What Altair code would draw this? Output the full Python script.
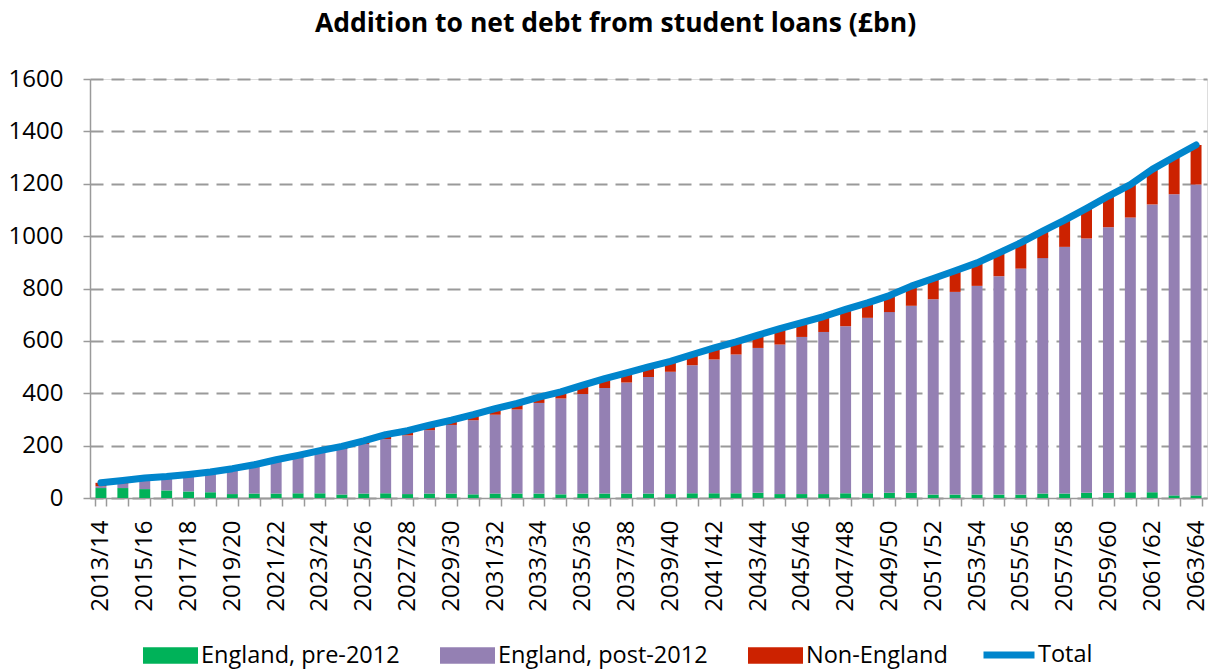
import altair as alt
import pandas as pd

years = ["2013/14", "2014/15", "2015/16", "2016/17", "2017/18", "2018/19", "2019/20", "2020/21",
         "2021/22", "2022/23", "2023/24", "2024/25", "2025/26", "2026/27", "2027/28", "2028/29",
         "2029/30", "2030/31", "2031/32", "2032/33", "2033/34", "2034/35", "2035/36", "2036/37",
         "2037/38", "2038/39", "2039/40", "2040/41", "2041/42", "2042/43", "2043/44", "2044/45",
         "2045/46", "2046/47", "2047/48", "2048/49", "2049/50", "2050/51", "2051/52", "2052/53",
         "2053/54", "2054/55", "2055/56", "2056/57", "2057/58", "2058/59", "2059/60", "2060/61",
         "2061/62", "2062/63", "2063/64"]

pre2012 = [38, 38, 34, 29, 25, 22, 15, 17, 17, 18, 18, 13, 17, 18, 15, 17, 17, 14, 17, 17,
           17, 14, 17, 17, 17, 17, 15, 18, 18, 18, 20, 15, 15, 15, 18, 18, 20, 20, 13, 13,
           13, 13, 13, 17, 17, 20, 20, 22, 22, 10, 10]
post2012 = [7, 17, 35, 44, 58, 71, 92, 104, 123, 135, 154, 174, 189, 207, 224, 242, 262, 283, 301, 321,
            346, 366, 380, 403, 424, 445, 467, 489, 511, 530, 553, 571, 600, 619, 638, 670, 690, 714, 746, 774,
            797, 834, 863, 899, 942, 971, 1014, 1049, 1099, 1150, 1187]
non_england = [13, 12, 7, 9, 7, 6, 5, 6, 6, 10, 9, 10, 12, 17, 18, 19, 18, 21, 23, 23,
               22, 25, 34, 36, 37, 39, 40, 41, 44, 48, 49, 61, 55, 59, 64, 57, 63, 75, 79, 81,
               88, 89, 99, 103, 102, 115, 119, 126, 134, 142, 151]
total = [58, 67, 76, 82, 90, 99, 112, 127, 146, 163, 181, 197, 218, 242, 257, 278, 297, 318, 341, 361,
         385, 405, 431, 456, 478, 501, 522, 548, 573, 596, 622, 647, 670, 693, 720, 745, 773, 809, 838, 868,
         898, 936, 975, 1019, 1061, 1106, 1153, 1197, 1255, 1302, 1348]

series_names = ["England, pre-2012", "England, post-2012", "Non-England"]
series_colors = ["#00B259", "#9480B3", "#CC2200"]
y_ticks = [0, 200, 400, 600, 800, 1000, 1200, 1400, 1600]

rows = []
for i, yr in enumerate(years):
    for k, vals in enumerate([pre2012, post2012, non_england]):
        rows.append({"year": yr, "series": series_names[k], "value": vals[i], "order": k})
bars_df = pd.DataFrame(rows)
line_df = pd.DataFrame({"year": years, "total": total, "series": ["Total"] * len(years)})

FONT = "Open Sans"
GREY = "#9A9A9A"

x_axis = alt.Axis(
    labelAngle=270, labelFontSize=24, labelFont=FONT, labelColor="black",
    labelExpr="parseInt(substring(datum.label,0,4)) % 2 == 1 ? datum.label : ''",
    tickBand="extent", tickColor=GREY, tickSize=8, tickWidth=1.5,
    domainColor=GREY, domainWidth=1.5, labelPadding=14, grid=False,
    labelOverlap=False, labelAlign="right", labelBaseline="middle", labelLimit=0,
)
x_scale = alt.Scale(paddingInner=0.5, paddingOuter=0.25)
y_scale = alt.Scale(domain=[0, 1600], nice=False)

bars = alt.Chart(bars_df).mark_bar().encode(
    x=alt.X("year:N", sort=years, title=None, scale=x_scale, axis=x_axis),
    y=alt.Y("value:Q", stack="zero", title=None, scale=y_scale,
            axis=alt.Axis(values=y_ticks, format="d", labelFontSize=24, labelFont=FONT,
                          labelColor="black", tickColor=GREY, tickSize=7, tickWidth=1.5,
                          labelPadding=20, domainColor=GREY, domainWidth=1.5, gridColor=GREY,
                          gridDash=[13, 8], gridWidth=2)),
    color=alt.Color("series:N", scale=alt.Scale(domain=series_names, range=series_colors),
                    legend=alt.Legend(orient="none", legendX=53, legendY=549, direction="horizontal",
                                      title=None, symbolType="M-1,-0.3L1,-0.3L1,0.3L-1,0.3Z",
                                      symbolSize=3025, symbolStrokeWidth=0, labelFontSize=23.5,
                                      labelFont=FONT, labelColor="black", columnPadding=40,
                                      labelOffset=3, padding=0, labelLimit=0)),
    order=alt.Order("order:Q", sort="ascending"),
)

line = alt.Chart(line_df).mark_line(strokeWidth=7, strokeCap="round", strokeJoin="round").encode(
    x=alt.X("year:N", sort=years, title=None, scale=x_scale),
    y=alt.Y("total:Q", title=None, scale=y_scale),
    stroke=alt.Stroke("series:N", scale=alt.Scale(domain=["Total"], range=["#0085CC"]),
                      legend=alt.Legend(orient="none", legendX=890, legendY=547, title=None,
                                        symbolType="stroke", symbolSize=2601, symbolStrokeWidth=7,
                                        labelFontSize=23.5, labelFont=FONT, labelColor="black",
                                        labelOffset=0, padding=0, labelLimit=0)),
)

chart = alt.layer(bars, line).properties(
    width=1117, height=419,
    title=alt.TitleParams("Addition to net debt from student loans (£bn)", font=FONT, fontSize=26.5,
                          fontWeight="bold", anchor="middle", dx=-33, offset=30, color="black"),
    autosize=alt.AutoSizeParams(type="none"),
    padding={"left": 90, "top": 79, "right": 4, "bottom": 173},
).configure_view(stroke=None).configure(background="white")

chart.save("out.html", embed_options={"renderer": "svg", "actions": False})
